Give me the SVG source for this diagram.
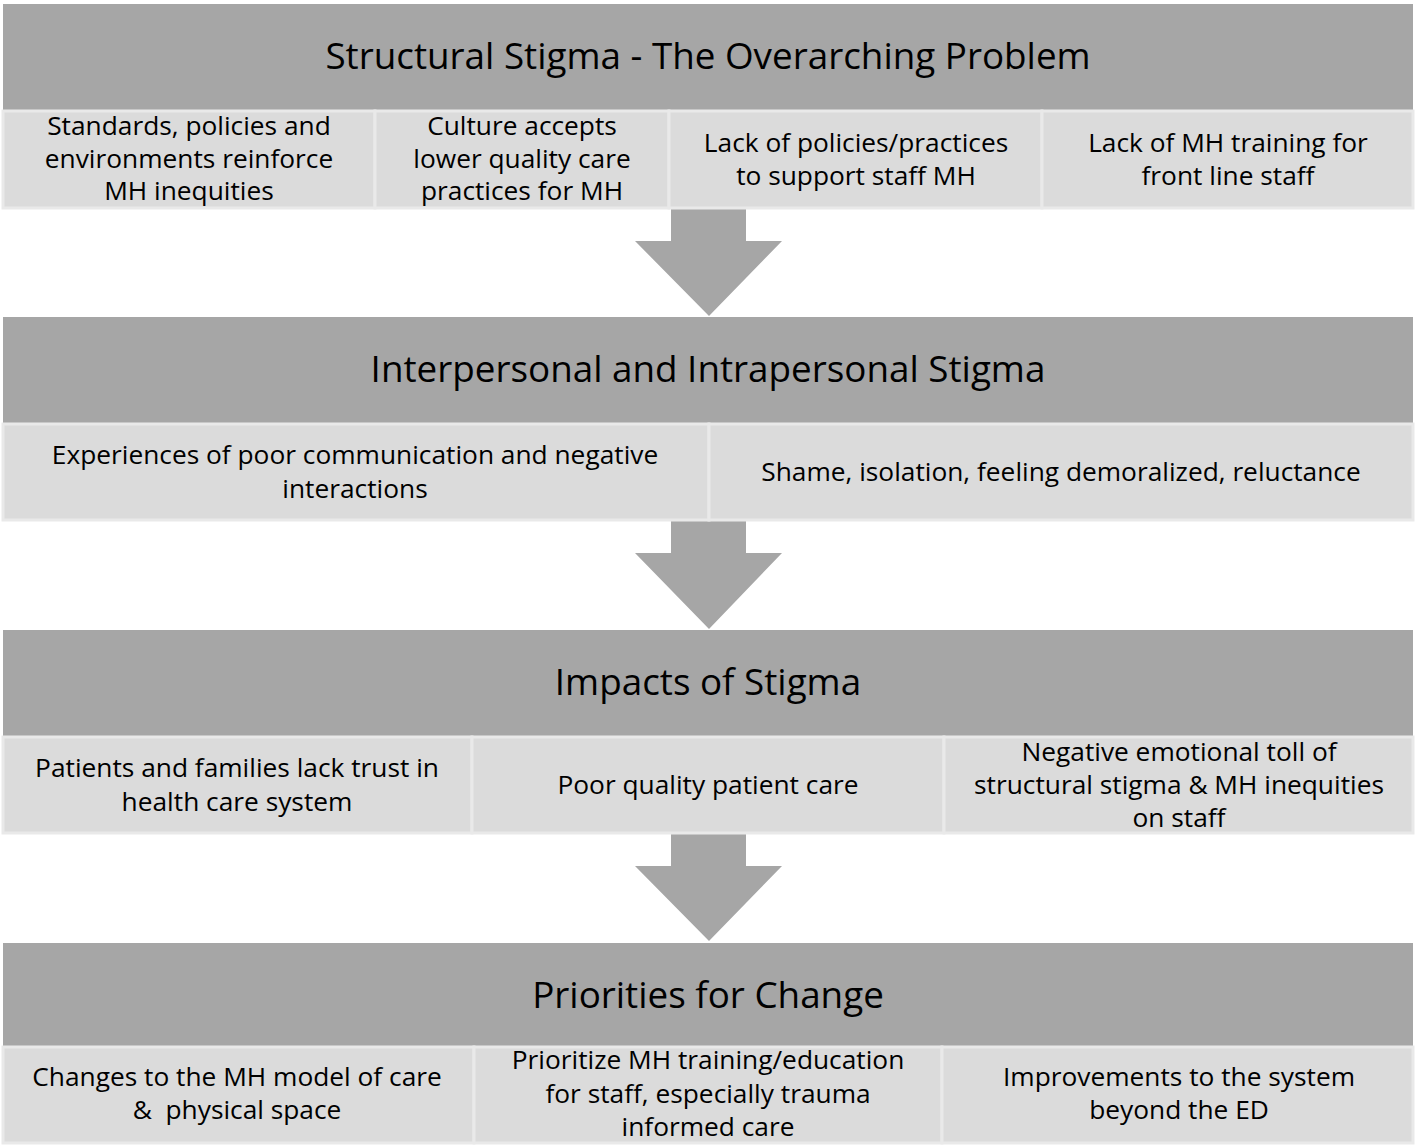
<svg xmlns="http://www.w3.org/2000/svg" width="1417" height="1147" viewBox="0 0 1417 1147">
<style>
.hdr{fill:#a6a6a6;}
.cell{fill:#dbdbdb;stroke:#e9e9e9;stroke-width:3;}
.arrow{fill:#a6a6a6;}
text{font-family:"Open Sans","Liberation Sans",sans-serif;fill:#000;text-anchor:middle;}
.ht{font-size:36.8px;}
.ct{font-size:26.3px;}
</style>
<rect width="1417" height="1147" fill="#fff"/>
<g id="connectors">
<path class="arrow" d="M671,208 H746 V241 H782 L709,316 L635,241 H671 Z"/>
<path class="arrow" d="M671,520 H746 V553 H782 L709,629 L635,553 H671 Z"/>
<path class="arrow" d="M671,833 H746 V866 H782 L709,941 L635,866 H671 Z"/>
</g>
<g id="structural">
<rect class="hdr" x="3" y="4" width="1410" height="107"/>
<text class="ht" x="708" y="69">Structural Stigma - The Overarching Problem</text>
</g>
<g id="s1"><rect class="cell" x="3" y="111" width="372" height="97"/>
<text class="ct" x="189" y="135">Standards, policies and</text><text class="ct" x="189" y="168">environments reinforce</text><text class="ct" x="189" y="200">MH inequities</text></g>
<g id="s2"><rect class="cell" x="375" y="111" width="294" height="97"/>
<text class="ct" x="522" y="135">Culture accepts</text><text class="ct" x="522" y="168">lower quality care</text><text class="ct" x="522" y="200">practices for MH</text></g>
<g id="s3"><rect class="cell" x="669" y="111" width="373" height="97"/>
<text class="ct" x="856" y="152">Lack of policies/practices</text><text class="ct" x="856" y="185">to support staff MH</text></g>
<g id="s4"><rect class="cell" x="1042" y="111" width="371" height="97"/>
<text class="ct" x="1228" y="152">Lack of MH training for</text><text class="ct" x="1228" y="185">front line staff</text></g>

<g id="interpersonal">
<rect class="hdr" x="3" y="317" width="1410" height="107"/>
<text class="ht" x="708" y="382">Interpersonal and Intrapersonal Stigma</text>
</g>
<g id="i1"><rect class="cell" x="3" y="424" width="706" height="96"/>
<text class="ct" x="355" y="464">Experiences of poor communication and negative</text><text class="ct" x="355" y="498">interactions</text></g>
<g id="i2"><rect class="cell" x="709" y="424" width="704" height="96"/>
<text class="ct" x="1061" y="481">Shame, isolation, feeling demoralized, reluctance</text></g>

<g id="impacts">
<rect class="hdr" x="3" y="630" width="1410" height="107"/>
<text class="ht" x="708" y="695">Impacts of Stigma</text>
</g>
<g id="m1"><rect class="cell" x="3" y="737" width="469" height="96"/>
<text class="ct" x="237" y="777">Patients and families lack trust in</text><text class="ct" x="237" y="811">health care system</text></g>
<g id="m2"><rect class="cell" x="472" y="737" width="472" height="96"/>
<text class="ct" x="708" y="794">Poor quality patient care</text></g>
<g id="m3"><rect class="cell" x="944" y="737" width="469" height="96"/>
<text class="ct" x="1179" y="761">Negative emotional toll of</text><text class="ct" x="1179" y="794">structural stigma &amp; MH inequities</text><text class="ct" x="1179" y="827">on staff</text></g>

<g id="priorities">
<rect class="hdr" x="3" y="943" width="1410" height="104"/>
<text class="ht" x="708" y="1008">Priorities for Change</text>
</g>
<g id="p1"><rect class="cell" x="3" y="1047" width="471" height="96"/>
<text class="ct" x="237" y="1086">Changes to the MH model of care</text><text class="ct" x="237" y="1119" xml:space="preserve">&amp;  physical space</text></g>
<g id="p2"><rect class="cell" x="474" y="1047" width="468" height="96"/>
<text class="ct" x="708" y="1069">Prioritize MH training/education</text><text class="ct" x="708" y="1103">for staff, especially trauma</text><text class="ct" x="708" y="1136">informed care</text></g>
<g id="p3"><rect class="cell" x="942" y="1047" width="471" height="96"/>
<text class="ct" x="1179" y="1086">Improvements to the system</text><text class="ct" x="1179" y="1119">beyond the ED</text></g>
</svg>
